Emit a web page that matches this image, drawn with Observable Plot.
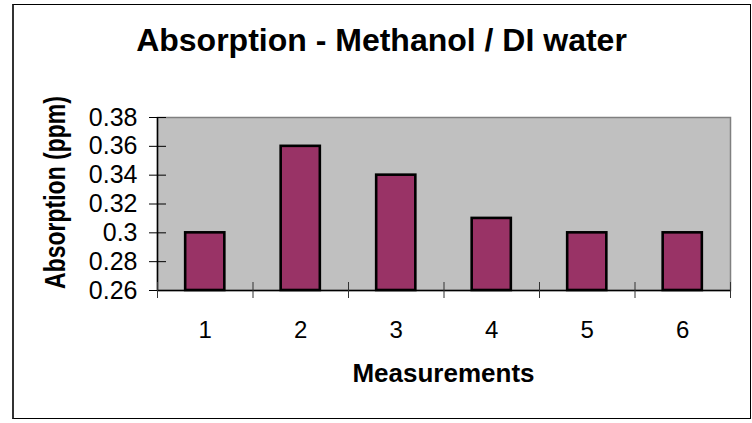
<!DOCTYPE html>
<html>
<head>
<meta charset="utf-8">
<script src="https://cdn.jsdelivr.net/npm/d3@7"></script>
<script src="https://cdn.jsdelivr.net/npm/@observablehq/plot@0.6"></script>
<style>
  html, body { margin: 0; padding: 0; background: #fff; }
  body { width: 752px; height: 423px; position: relative; overflow: hidden;
         font-family: "Liberation Sans", Arial, sans-serif; }
  #frame { position: absolute; left: 12px; top: 4px; width: 739px; height: 415px;
           box-sizing: border-box; border: 1px solid #000; border-left: 2px solid #333; }
  #title { position: absolute; left: 12px; width: 739px; top: 24px; line-height: 32px;
           font-size: 32px; font-weight: bold; text-align: center; color: #000; }
  #xtitle { position: absolute; left: 157px; width: 573px; top: 360px; line-height: 26px;
            font-size: 26px; font-weight: bold; text-align: center; color: #000; }
  #ytitle { position: absolute; left: -95px; top: 180.5px; width: 300px; height: 23px; line-height: 23px;
            font-size: 23px; font-weight: bold; text-align: center; color: #000;
            transform: rotate(-90deg) scaleY(1.28); transform-origin: 50% 50%; }
  #chart { position: absolute; left: 0; top: 0; }
</style>
</head>
<body>
<div id="frame"></div>
<div id="title">Absorption - Methanol / DI water</div>
<div id="ytitle">Absorption (ppm)</div>
<div id="xtitle">Measurements</div>
<div id="chart"></div>
<script>
const measurements = [1, 2, 3, 4, 5, 6];
const absorption = [0.30, 0.36, 0.34, 0.31, 0.30, 0.30];
const yTicks = [0.26, 0.28, 0.30, 0.32, 0.34, 0.36, 0.38];
const yTickLabels = ["0.26", "0.28", "0.3", "0.32", "0.34", "0.36", "0.38"];
const xBoundaries = [0.5, 1.5, 2.5, 3.5, 4.5, 5.5, 6.5];
const xTickLabels = ["1", "2", "3", "4", "5", "6"];

const yDomain = [0.26, 0.38];
const xDomain = [0.5, 6.5];
const barHalf = 0.205;

const data = measurements.map((m, i) => ({m, v: absorption[i]}));

const chart = Plot.plot({
  width: 752,
  height: 423,
  marginLeft: 157,
  marginRight: 22,
  marginTop: 117,
  marginBottom: 133,
  style: {background: "transparent", fontFamily: "'Liberation Sans', Arial, sans-serif", color: "#000"},
  x: {type: "linear", domain: xDomain, axis: null},
  y: {domain: yDomain, axis: null},
  marks: [
    Plot.frame({fill: "#C0C0C0", stroke: "#808080", strokeWidth: 1.5}),
    Plot.rectY(data, {
      x1: d => d.m - barHalf,
      x2: d => d.m + barHalf,
      y1: () => yDomain[0],
      y2: "v",
      fill: "#993366",
      stroke: "#000",
      strokeWidth: 2.6
    }),
    Plot.ruleY([yDomain[0]], {stroke: "#000", strokeWidth: 1.5}),
    Plot.ruleX([xDomain[0]], {stroke: "#000", strokeWidth: 1.5}),
    Plot.axisY({
      ticks: yTicks,
      tickFormat: (d, i) => yTickLabels[i],
      tickSize: 17,
      dx: 9,
      tickPadding: 12,
      fontSize: 25,
      stroke: "#000",
      label: null
    }),
    Plot.axisX({
      ticks: xBoundaries,
      tickFormat: () => "",
      tickSize: 16,
      dy: -8,
      stroke: "#333",
      label: null
    }),
    Plot.axisX({
      ticks: measurements,
      tickFormat: (d, i) => xTickLabels[i],
      tickSize: 0,
      tickPadding: 30,
      fontSize: 24,
      label: null
    })
  ]
});
document.getElementById("chart").appendChild(chart);
</script>
</body>
</html>
